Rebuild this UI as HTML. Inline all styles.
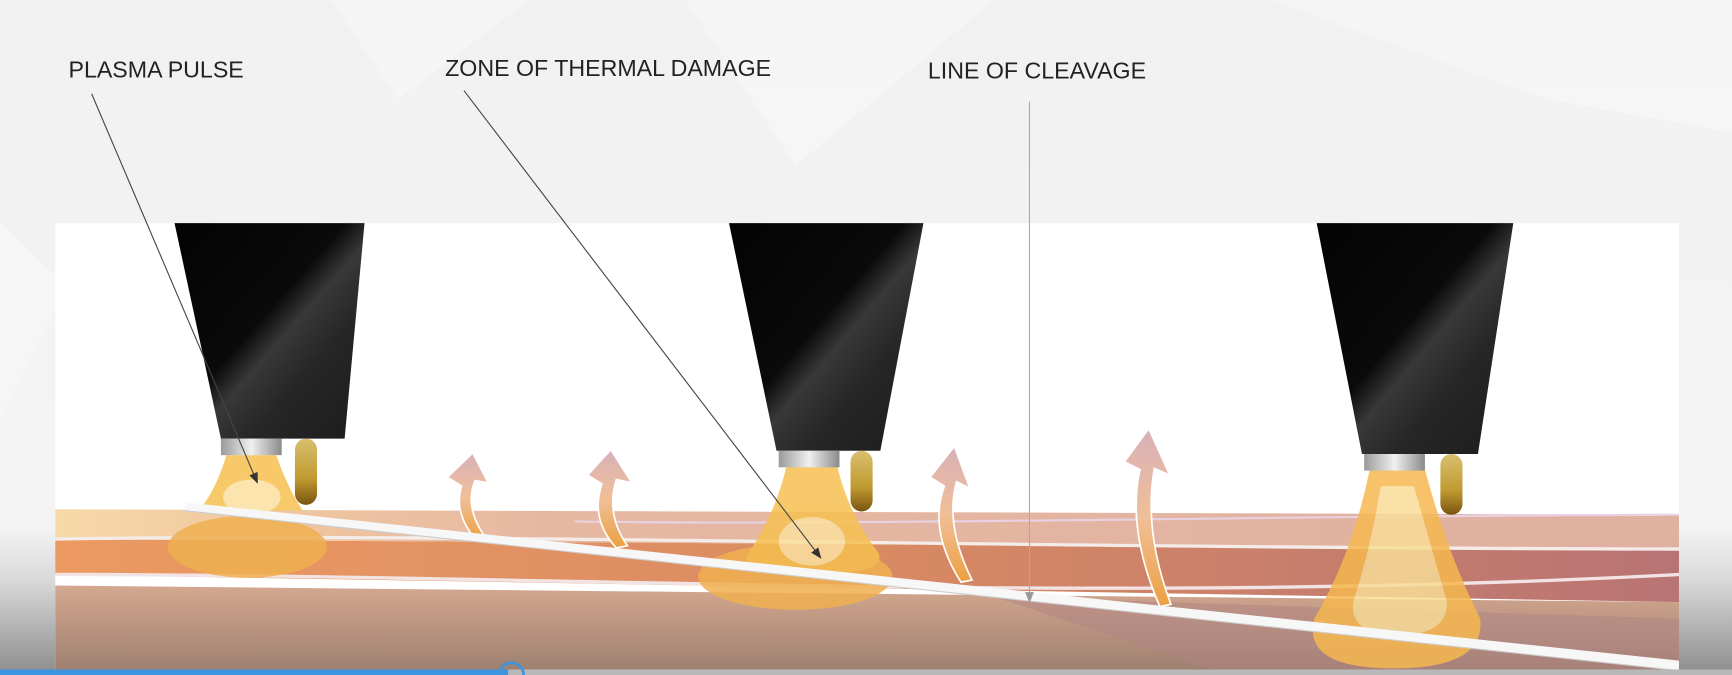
<!DOCTYPE html>
<html><head><meta charset="utf-8"><style>
html,body{margin:0;padding:0;background:#eee;overflow:hidden}
svg{display:block}
text{font-family:"Liberation Sans",sans-serif;font-size:21px;fill:#222}
</style></head><body>
<svg width="1732" height="675" viewBox="0 0 1568 611" preserveAspectRatio="none" xmlns="http://www.w3.org/2000/svg">
<defs>
<linearGradient id="bg" x1="0" y1="0" x2="0" y2="1">
<stop offset="0" stop-color="#f1f1f1"/><stop offset="0.78" stop-color="#f4f4f4"/><stop offset="0.86" stop-color="#d9d9d9"/><stop offset="1" stop-color="#8c8c8c"/></linearGradient>
<linearGradient id="noz" x1="0" y1="0" x2="1" y2="1">
<stop offset="0" stop-color="#030303"/><stop offset="0.45" stop-color="#0a0a0a"/><stop offset="0.55" stop-color="#383838"/><stop offset="0.7" stop-color="#262626"/><stop offset="1" stop-color="#1c1c1c"/></linearGradient>
<linearGradient id="col" x1="0" y1="0" x2="1" y2="0">
<stop offset="0" stop-color="#9a9a9a"/><stop offset="0.5" stop-color="#f0f0f0"/><stop offset="1" stop-color="#8a8a8a"/></linearGradient>
<linearGradient id="gold" x1="0" y1="0" x2="0" y2="1">
<stop offset="0" stop-color="#d8c070"/><stop offset="0.6" stop-color="#c09a30"/><stop offset="1" stop-color="#7a5410"/></linearGradient>
<linearGradient id="deep" x1="0" y1="0" x2="0" y2="1">
<stop offset="0" stop-color="#d4a890"/><stop offset="1" stop-color="#9e8070"/></linearGradient>
<linearGradient id="mid" x1="0" y1="0" x2="1" y2="0">
<stop offset="0" stop-color="#ec9a62"/><stop offset="0.5" stop-color="#d98a62"/><stop offset="1" stop-color="#b87474"/></linearGradient>
<linearGradient id="top" x1="0" y1="0" x2="1" y2="0">
<stop offset="0" stop-color="#f7d9a8"/><stop offset="0.12" stop-color="#f0c8a0"/><stop offset="0.3" stop-color="#e6b8a2"/><stop offset="1" stop-color="#e0b0a0"/></linearGradient>
<linearGradient id="arr" x1="0" y1="1" x2="0" y2="0">
<stop offset="0" stop-color="#eca040"/><stop offset="0.5" stop-color="#f0bf98"/><stop offset="1" stop-color="#d8b0b8"/></linearGradient>
<marker id="ah" markerWidth="10" markerHeight="10" refX="9" refY="5" orient="auto" markerUnits="userSpaceOnUse"><path d="M0,1 L10,5 L0,9z" fill="#333"/></marker>
<marker id="ah2" markerWidth="10" markerHeight="10" refX="9" refY="5" orient="auto" markerUnits="userSpaceOnUse"><path d="M0,1 L10,5 L0,9z" fill="#999"/></marker>
</defs>
<rect width="1568" height="611" fill="url(#bg)"/>
<g fill="#fafafa" opacity="0.5">
<polygon points="620,0 900,0 720,150"/><polygon points="1150,0 1568,0 1568,120 1400,90"/><polygon points="0,200 60,260 0,380"/>
<polygon points="300,0 480,0 360,90"/></g>
<!-- panel -->
<rect x="50" y="202" width="1470" height="405" fill="#fff"/>
<!-- skin -->
<path d="M50,530 L1520,545 L1520,607 L50,607z" fill="url(#deep)"/>
<path d="M50,488 L1520,497 L1520,545 L50,520z" fill="url(#mid)"/>
<path d="M50,461 L1520,466 L1520,497 L50,488z" fill="url(#top)"/>
<path d="M900,540 L1520,560 L1520,607 L1100,607z" fill="#b08484" opacity="0.5"/>
<path d="M50,488 C400,482 900,496 1520,497" stroke="#f4ece8" stroke-width="3" fill="none"/>
<path d="M50,520 C500,520 1000,548 1520,520" stroke="#f2e4e4" stroke-width="3" fill="none"/>
<path d="M520,472 C800,476 1200,466 1520,466" stroke="#e8d0e0" stroke-width="2" fill="none"/>
<!-- plumes -->
<g opacity="0.85">
<ellipse cx="224" cy="495" rx="72" ry="28" fill="#f0b050"/>
<path d="M205,412 L250,412 Q262,445 274,462 L180,462 Q195,445 205,412z" fill="#f6c050"/>
<ellipse cx="228" cy="450" rx="26" ry="16" fill="#fbe0a0"/>
<ellipse cx="720" cy="522" rx="88" ry="30" fill="#f0b050"/>
<path d="M712,422 L758,422 Q768,465 795,500 Q805,520 735,520 Q665,520 678,500 Q702,465 712,422z" fill="#f6c050"/>
<ellipse cx="735" cy="490" rx="30" ry="22" fill="#fbe0a0"/>
<path d="M1240,425 L1290,425 Q1310,500 1340,560 Q1345,605 1262,605 Q1178,605 1190,560 Q1225,500 1240,425z" fill="#f6b850"/>
<path d="M1250,440 L1280,440 Q1300,510 1310,545 Q1310,575 1266,575 Q1222,575 1225,545 Q1240,500 1250,440z" fill="#f8dc98"/>
</g>
<!-- heat arrows -->
<g fill="url(#arr)" stroke="#fff" stroke-width="1.5">
<path d="M418,440 L405,432 L428,410 L442,437 L430,435 Q420,460 440,487 L432,490 Q410,465 418,440z"/>
<path d="M545,438 L532,430 L553,407 L572,437 L558,434 Q548,465 568,494 L558,496 Q534,470 545,438z"/>
<path d="M855,440 L842,432 L864,404 L878,442 L866,436 Q855,475 880,525 L870,527 Q840,480 855,440z"/>
<path d="M1032,425 L1018,418 L1040,388 L1059,430 L1045,424 Q1035,480 1060,547 L1050,549 Q1020,480 1032,425z"/>
</g>
<!-- cleavage line -->
<path d="M170,455 L1520,598 L1520,607 L165,462z" fill="#f7f7f7"/>
<path d="M165,462 L1520,607" stroke="#ccc" stroke-width="1" fill="none"/>
<!-- nozzles -->
<g>
<polygon points="158,202 330,202 312,397 200,397" fill="url(#noz)"/>
<rect x="200" y="397" width="55" height="15" fill="url(#col)"/>
<rect x="267" y="397" width="20" height="60" rx="10" fill="url(#gold)"/>
<polygon points="660,202 836,202 797,408 703,408" fill="url(#noz)"/>
<rect x="705" y="408" width="55" height="15" fill="url(#col)"/>
<rect x="770" y="408" width="20" height="55" rx="10" fill="url(#gold)"/>
<polygon points="1192,202 1370,202 1338,411 1233,411" fill="url(#noz)"/>
<rect x="1235" y="411" width="55" height="15" fill="url(#col)"/>
<rect x="1304" y="411" width="20" height="55" rx="10" fill="url(#gold)"/>
</g>
<!-- labels -->
<text x="62" y="70">PLASMA PULSE</text>
<text x="403" y="69">ZONE OF THERMAL DAMAGE</text>
<text x="840" y="71">LINE OF CLEAVAGE</text>
<line x1="83" y1="85" x2="233" y2="437" stroke="#444" stroke-width="1" marker-end="url(#ah)"/>
<line x1="420" y1="82" x2="743" y2="505" stroke="#444" stroke-width="1" marker-end="url(#ah)"/>
<line x1="932" y1="92" x2="932" y2="545" stroke="#aaa" stroke-width="1" marker-end="url(#ah2)"/>
<!-- progress bar -->
<rect x="0" y="606" width="1568" height="5" fill="#b8b8b8"/>
<rect x="0" y="606" width="460" height="5" fill="#3d95e0"/>
<path d="M452,611 A11,11 0 0 1 474,611" fill="none" stroke="#3d95e0" stroke-width="2.5"/>
</svg>
</body></html>
